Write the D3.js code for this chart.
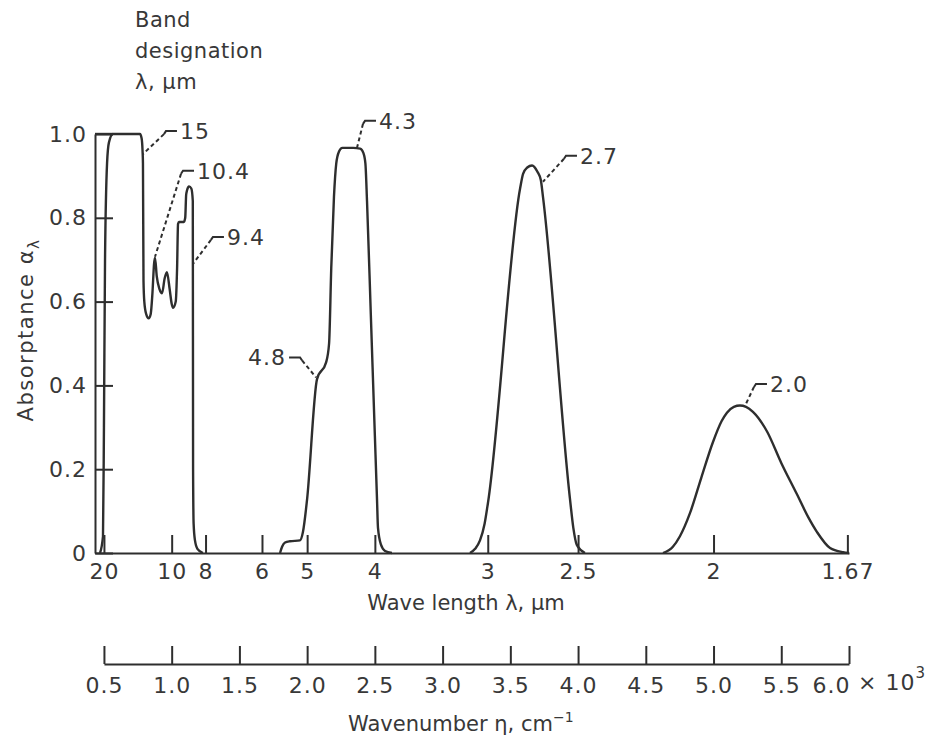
<!DOCTYPE html>
<html><head><meta charset="utf-8">
<script src="https://cdn.jsdelivr.net/npm/d3@7"></script>
<style>
body{margin:0;background:#fff;}
svg text{font-family:'DejaVu Sans',sans-serif;fill:#383838;}
</style></head><body>
<svg id="c" width="933" height="738"></svg>
<script>
// ---------- data ----------
const wavelengthTicks = [20, 10, 8, 6, 5, 4, 3, 2.5, 2, 1.67];
const wavelengthLabels = ["20", "10", "8", "6", "5", "4", "3", "2.5", "2", "1.67"];
const wavenumberTicks = [0.5, 1.0, 1.5, 2.0, 2.5, 3.0, 3.5, 4.0, 4.5, 5.0, 5.5, 6.0];
const absorptanceTicks = [0, 0.2, 0.4, 0.6, 0.8, 1.0];

// [wavenumber cm^-1, absorptance]
const band15 = [[471,0],[493,0.04],[500,0.3],[508,0.7],[523,0.93],[537,0.98],[567,1.0],[766,1.0],[778,0.99],[785,0.96],[788,0.93],[792,0.65],[798,0.6],[812,0.57],[830,0.56],[845,0.57],[858,0.62],[870,0.69],[877,0.705],[890,0.66],[910,0.63],[929,0.62],[948,0.655],[965,0.67],[985,0.63],[1000,0.595],[1010,0.585],[1030,0.6],[1040,0.68],[1047,0.785],[1054,0.79],[1090,0.79],[1100,0.8],[1107,0.855],[1113,0.865],[1128,0.875],[1145,0.87],[1156,0.84],[1158,0.2],[1162,0.07],[1172,0.03],[1190,0.01],[1231,0]];
const band15Edge = [[434,1.0],[567,1.0]];
const band43 = [[1800,0],[1815,0.015],[1837,0.025],[1873,0.028],[1947,0.03],[1969,0.05],[1999,0.126],[2073,0.415],[2140,0.455],[2162,0.5],[2178,0.68],[2198,0.85],[2215,0.93],[2235,0.958],[2260,0.967],[2340,0.967],[2391,0.965],[2415,0.955],[2430,0.93],[2442,0.84],[2470,0.57],[2500,0.28],[2516,0.126],[2523,0.06],[2545,0.02],[2575,0.005],[2626,0]];
const band27 = [[3202,0],[3240,0.01],[3276,0.03],[3310,0.07],[3335,0.12],[3572,0.87],[3594,0.905],[3625,0.92],[3660,0.925],[3700,0.91],[3725,0.89],[3741,0.85],[3940,0.13],[3965,0.06],[3990,0.02],[4051,0]];
const band20 = [[4627,0],[4700,0.015],[4752,0.04],[4826,0.095],[4910,0.18],[4996,0.265],[5060,0.315],[5099,0.335],[5150,0.349],[5195,0.352],[5240,0.349],[5291,0.337],[5395,0.29],[5500,0.215],[5616,0.14],[5700,0.085],[5764,0.05],[5860,0.012],[5956,0.002],[6000,0]];

const bandLabels = ["15", "10.4", "9.4", "4.3", "2.7", "4.8", "2.0"];
const bandAnchors = [[788,0.952],[877,0.707],[1157,0.69],[2368,0.967],[3741,0.886],[2066,0.419],[5232,0.351]];

// ---------- layout ----------
const labelOffsets = [[37,-15],[42,-78],[34,-19],[22,-19],[37,-18],[-30,-12],[25,-14]];
const ink = "#2e2e2e";
const svg = d3.select("#c");
const x = d3.scaleLinear().domain([434, 6000]).range([95, 849]);
const y = d3.scaleLinear().domain([0, 1]).range([553, 134]);
const xn = d3.scaleLinear().domain([0.5, 6.0]).range([x(500), x(6000)]);

function styleAxis(g, fs) {
  g.attr("font-family", null).attr("font-size", null);
  g.select(".domain").attr("stroke", ink).attr("stroke-width", 2);
  g.selectAll(".tick line").attr("stroke", ink).attr("stroke-width", 2);
  g.selectAll(".tick text").attr("fill", "#383838").style("font-size", fs + "px").style("letter-spacing", "1px");
}

// wavelength axis (on baseline)
const gTop = svg.append("g").attr("transform", "translate(0,553)")
  .call(d3.axisBottom(x).tickValues(wavelengthTicks.map(l => 1e4 / l))
    .tickFormat((d, i) => wavelengthLabels[i]).tickSizeInner(-18).tickSizeOuter(0).tickPadding(10));
styleAxis(gTop, 22);

// absorptance axis
const gY = svg.append("g").attr("transform", "translate(95,0)")
  .call(d3.axisLeft(y).tickValues(absorptanceTicks)
    .tickFormat(d => d === 0 ? "0" : d3.format(".1f")(d)).tickSizeInner(-18).tickSizeOuter(0).tickPadding(8));
styleAxis(gY, 22);

// wavenumber axis
const gN = svg.append("g").attr("transform", "translate(0,664)")
  .call(d3.axisBottom(xn).tickValues(wavenumberTicks).tickFormat(d3.format(".1f"))
    .tickSizeInner(-18).tickSizeOuter(0).tickPadding(13));
styleAxis(gN, 22);
gN.selectAll(".tick text").filter(d => d === 6.0).attr("dx", -18);

const xt = svg.append("text").attr("x", 858).attr("y", 690).style("font-size", "22px").style("letter-spacing", "1px");
xt.append("tspan").text("× 10");
xt.append("tspan").attr("dy", -12).style("font-size", "15px").text("3");

// curves
const line = d3.line().x(d => x(d[0])).y(d => y(d[1])).curve(d3.curveMonotoneX);
[band15, band15Edge, band43, band27, band20].forEach(b => {
  svg.append("path").datum(b).attr("d", line).attr("fill", "none")
    .attr("stroke", ink).attr("stroke-width", 2.4).attr("stroke-linejoin", "round");
});

// band labels with leaders
bandLabels.forEach((lab, i) => {
  const ax = x(bandAnchors[i][0]), ay = y(bandAnchors[i][1]);
  const tx = ax + labelOffsets[i][0], ty = ay + labelOffsets[i][1];
  const left = labelOffsets[i][0] < 0;
  const hy = ty - 8;
  const s = left ? 1 : -1;
  const h0 = tx + s * 3, h1 = tx + s * 14, h2x = tx + s * 16, h2y = hy + 3;
  svg.append("path").attr("d", `M${h0},${hy}H${h1}L${h2x},${h2y}`)
    .attr("fill", "none").attr("stroke", ink).attr("stroke-width", 2);
  svg.append("path").attr("d", `M${h2x},${h2y}L${ax},${ay}`)
    .attr("fill", "none").attr("stroke", ink).attr("stroke-width", 2).attr("stroke-dasharray", "4,3");
  svg.append("text").attr("x", tx).attr("y", ty).attr("text-anchor", left ? "end" : "start")
    .style("font-size", "22px").style("letter-spacing", "1px").text(lab);
});

// titles
const hdr = ["Band", "designation", "λ, μm"];
hdr.forEach((t, i) => svg.append("text").attr("x", 135).attr("y", 27 + i * 31)
  .style("font-size", "21px").style("letter-spacing", "0.5px").text(t));

svg.append("text").attr("x", 466).attr("y", 610).attr("text-anchor", "middle")
  .style("font-size", "21px").text("Wave length λ, μm");

const wn = svg.append("text").attr("x", 348).attr("y", 731).style("font-size", "21px");
wn.append("tspan").text("Wavenumber η, cm");
wn.append("tspan").attr("dy", -9).style("font-size", "14px").text("−1");

const yl = svg.append("text").attr("transform", "translate(33,330) rotate(-90)")
  .attr("text-anchor", "middle").style("font-size", "21px").style("letter-spacing", "1.5px");
yl.append("tspan").text("Absorptance α");
yl.append("tspan").attr("dy", 6).style("font-size", "15px").text("λ");
</script>
</body></html>
